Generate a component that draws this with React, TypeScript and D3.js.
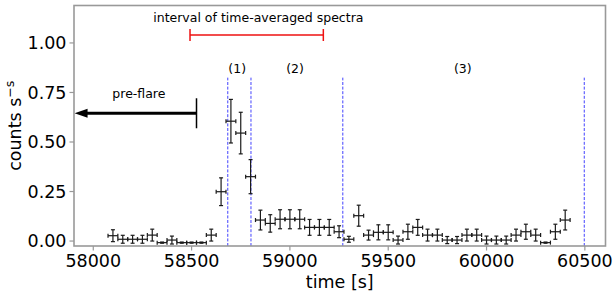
import React from "react";
import * as d3 from "d3";

const times = [58100, 58150, 58200, 58250, 58300, 58350, 58400, 58450, 58500, 58550, 58600, 58650, 58700, 58750, 58800, 58850, 58900, 58950, 59000, 59050, 59100, 59150, 59200, 59250, 59300, 59350, 59400, 59450, 59500, 59550, 59600, 59650, 59700, 59750, 59800, 59850, 59900, 59950, 60000, 60050, 60100, 60150, 60200, 60250, 60300, 60350, 60400];
const rates = [0.027, 0.009, 0.009, 0.009, 0.03, -0.008, 0.005, -0.008, -0.008, -0.008, 0.03, 0.249, 0.605, 0.545, 0.325, 0.106, 0.089, 0.11, 0.11, 0.11, 0.069, 0.069, 0.069, 0.047, 0.009, 0.128, 0.03, 0.044, 0.044, 0.005, 0.047, 0.069, 0.03, 0.03, 0.005, 0.005, 0.03, 0.03, 0.005, 0.005, 0.005, 0.03, 0.047, 0.03, -0.008, 0.047, 0.106];
const rateErr = [0.03, 0.02, 0.02, 0.02, 0.03, 0.003, 0.02, 0.003, 0.003, 0.003, 0.03, 0.07, 0.11, 0.105, 0.086, 0.05, 0.044, 0.048, 0.048, 0.048, 0.04, 0.04, 0.04, 0.03, 0.015, 0.053, 0.025, 0.038, 0.038, 0.02, 0.038, 0.04, 0.03, 0.03, 0.018, 0.018, 0.03, 0.03, 0.02, 0.02, 0.02, 0.03, 0.038, 0.03, 0.003, 0.038, 0.05];
const binHalf = 25;

const xTicks = [58000, 58500, 59000, 59500, 60000, 60500];
const yTicks = [0, 0.25, 0.5, 0.75, 1.0];

const boundaries = [58684, 58802, 59269, 60497];
const phaseLabels = ["(1)", "(2)", "(3)"];
const phaseLabelX = [58732, 59026, 59879];
const phaseLabelY = 0.85;

const intervalStart = 58492;
const intervalEnd = 59170;
const intervalY = 1.04;
const intervalText = "interval of time-averaged spectra";
const intervalTextX = 58305;
const intervalTextY = 1.107;

const preFlareText = "pre-flare";
const preFlareTextX = 58232;
const preFlareTextY = 0.722;
const preFlareStart = 58525;
const preFlareEnd = 57905;
const preFlareY = 0.645;

const W = 614, H = 295;
const left = 74, right = 605.5, top = 5.5, bottom = 246;

export default function App() {
  const x = d3.scaleLinear().domain([57902, 60605]).range([left, right]);
  const y = d3.scaleLinear().domain([-0.025, 1.189]).range([bottom, top]);
  const font = "DejaVu Sans, sans-serif";
  const spine = "#999";
  const ebColor = "#1a1a1a";
  const cap = 2;
  const vTop = y.invert(bottom - 0.7 * (bottom - top));

  return (
    <svg width={W} height={H} style={{ position: "absolute", left: 0, top: 0, background: "#fff" }} fontFamily={font}>
      {/* vertical boundaries */}
      {boundaries.map((b, i) => (
        <line key={"b" + i} x1={x(b)} x2={x(b)} y1={y(-0.025)} y2={y(vTop)} stroke="#2222ff" strokeWidth={1} strokeDasharray="3,1.6" opacity={0.85} />
      ))}
      {/* error bars */}
      {times.map((t, i) => {
        const cx = x(t), cy = y(rates[i]);
        const x0 = x(t - binHalf), x1 = x(t + binHalf);
        const y0 = y(rates[i] - rateErr[i]), y1 = y(rates[i] + rateErr[i]);
        return (
          <g key={"e" + i} stroke={ebColor} strokeWidth={1.2}>
            <line x1={x0} x2={x1} y1={cy} y2={cy} />
            <line x1={cx} x2={cx} y1={y0} y2={y1} />
            <line x1={x0} x2={x0} y1={cy - cap} y2={cy + cap} />
            <line x1={x1} x2={x1} y1={cy - cap} y2={cy + cap} />
            <line x1={cx - cap} x2={cx + cap} y1={y0} y2={y0} />
            <line x1={cx - cap} x2={cx + cap} y1={y1} y2={y1} />
          </g>
        );
      })}
      {/* interval bar */}
      <g stroke="#ee1111" strokeWidth={1.5}>
        <line x1={x(intervalStart)} x2={x(intervalEnd)} y1={y(intervalY)} y2={y(intervalY)} />
        <line x1={x(intervalStart)} x2={x(intervalStart)} y1={y(intervalY) - 6} y2={y(intervalY) + 6} />
        <line x1={x(intervalEnd)} x2={x(intervalEnd)} y1={y(intervalY) - 6} y2={y(intervalY) + 6} />
      </g>
      <text x={x(intervalTextX)} y={y(intervalTextY)} fontSize={12.5} fill="#000">{intervalText}</text>
      {phaseLabels.map((l, i) => (
        <text key={"p" + i} x={x(phaseLabelX[i])} y={y(phaseLabelY)} fontSize={12.5} textAnchor="middle" fill="#000">{l}</text>
      ))}
      {/* pre-flare arrow */}
      <text x={x(preFlareTextX)} y={y(preFlareTextY)} fontSize={12.5} textAnchor="middle" fill="#000">{preFlareText}</text>
      <line x1={x(preFlareStart)} x2={x(preFlareEnd) + 10} y1={y(preFlareY)} y2={y(preFlareY)} stroke="#000" strokeWidth={3} />
      <line x1={x(preFlareStart)} x2={x(preFlareStart)} y1={y(preFlareY) - 15} y2={y(preFlareY) + 15} stroke="#000" strokeWidth={1.5} />
      <path d={`M${x(preFlareEnd)},${y(preFlareY)} L${x(preFlareEnd) + 13},${y(preFlareY) - 4.5} L${x(preFlareEnd) + 13},${y(preFlareY) + 4.5} Z`} fill="#000" />
      {/* spines */}
      <rect x={left} y={top} width={right - left} height={bottom - top} fill="none" stroke={spine} strokeWidth={1.6} />
      {/* x axis ticks */}
      {xTicks.map((t) => (
        <g key={"xt" + t}>
          <line x1={x(t)} x2={x(t)} y1={bottom} y2={bottom + 4.5} stroke={spine} strokeWidth={1.2} />
          <text x={x(t)} y={bottom + 21} fontSize={17.5} textAnchor="middle" fill="#000">{t}</text>
        </g>
      ))}
      {yTicks.map((t) => (
        <g key={"yt" + t}>
          <line x1={left} x2={left - 4.5} y1={y(t)} y2={y(t)} stroke={spine} strokeWidth={1.2} />
          <text x={left - 7.5} y={y(t) + 6.3} fontSize={17.5} textAnchor="end" fill="#000">{d3.format(".2f")(t)}</text>
        </g>
      ))}
      <text x={(left + right) / 2} y={288} fontSize={17.5} textAnchor="middle" fill="#000">time [s]</text>
      <text transform={`translate(${21},${(top + bottom) / 2}) rotate(-90)`} fontSize={17.5} textAnchor="middle" fill="#000">
        counts s<tspan dy={-7} fontSize={12.5}>−s</tspan>
      </text>
    </svg>
  );
}
